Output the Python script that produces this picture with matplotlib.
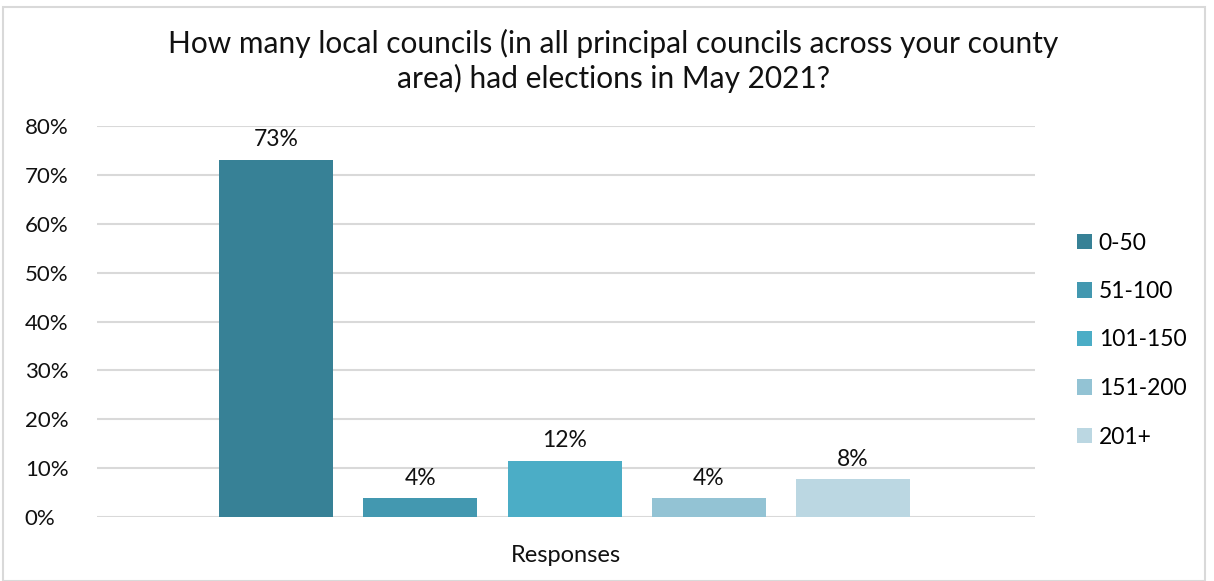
import matplotlib.pyplot as plt
from matplotlib.patches import Rectangle

# Data
categories = ['0-50', '51-100', '101-150', '151-200', '201+']
values = [73.1, 3.8, 11.5, 3.8, 7.7]
labels = ['73%', '4%', '12%', '4%', '8%']
colors = ['#378196', '#4398B0', '#4BADC6', '#93C3D4', '#BBD7E2']
title = 'How many local councils (in all principal councils across your county\narea) had elections in May 2021?'

plt.rcParams['font.family'] = ['Lato', 'DejaVu Sans']

fig = plt.figure(figsize=(12.14, 5.81), dpi=100)
ax = fig.add_axes([97 / 1214, 1 - 517 / 581, (1035 - 97) / 1214, (517 - 126) / 581])

for i, (cat, v, lab, col) in enumerate(zip(categories, values, labels, colors)):
    ax.bar(i, v, width=0.79, color=col, label=cat, zorder=3)
    ax.text(i, v + 2.0, lab, ha='center', va='bottom', fontsize=16.5, color='#111111')

ax.set_xlim(-1.24, 5.26)
ax.set_ylim(0, 80)
ax.set_yticks(range(0, 81, 10))
ax.set_yticklabels([f'{t}%' for t in range(0, 81, 10)], fontsize=16, color='#111111')
ax.set_xticks([])
ax.yaxis.grid(True, color='#d9d9d9', linewidth=1.5, zorder=0)
for s in ax.spines.values():
    s.set_visible(False)
ax.tick_params(axis='y', length=0, pad=52)
for t in ax.get_yticklabels():
    t.set_horizontalalignment('left')
ax.set_xlabel('Responses', fontsize=17, color='#111111', labelpad=20)

fig.text(0.505, 1 - 61 / 581, title, ha='center', va='center', fontsize=21.5,
         color='#111111', linespacing=1.25)

ax.legend(loc='center left', bbox_to_anchor=(1077 / 1214, 1 - 340 / 581),
          bbox_transform=fig.transFigure, frameon=False, fontsize=16.5,
          borderpad=0, borderaxespad=0,
          handlelength=0.65, handleheight=0.65, handletextpad=0.3, labelspacing=1.2)

fig.patches.append(Rectangle((3 / 1214, 0), 1202 / 1214, 1 - 7 / 581, transform=fig.transFigure,
                             fill=False, edgecolor='#d9d9d9', linewidth=1.5))

fig.savefig('out.png', dpi=100)
